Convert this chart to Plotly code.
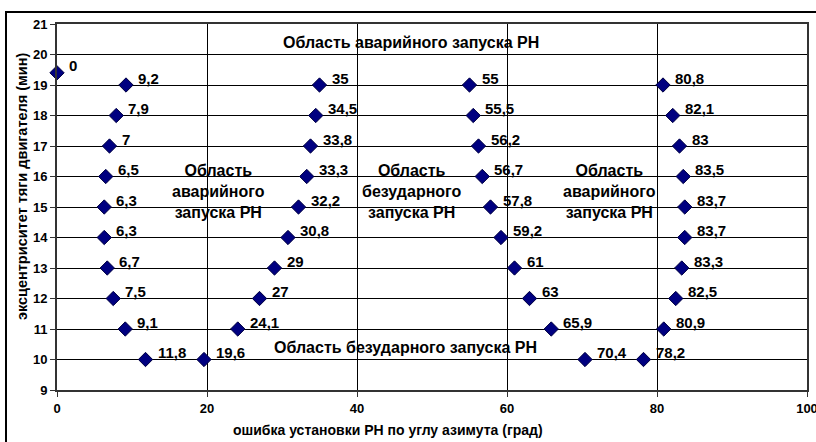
import plotly.graph_objects as go

# Data: azimuth error (x) vs thrust eccentricity (y)
x_vals = [0,
          9.2, 7.9, 7.0, 6.5, 6.3, 6.3, 6.7, 7.5, 9.1, 11.8,
          19.6, 24.1, 27.0, 29.0, 30.8, 32.2, 33.3, 33.8, 34.5, 35.0,
          55.0, 55.5, 56.2, 56.7, 57.8, 59.2, 61.0, 63.0, 65.9, 70.4,
          78.2, 80.9, 82.5, 83.3, 83.7, 83.7, 83.5, 83.0, 82.1, 80.8]
y_vals = [19.4,
          19, 18, 17, 16, 15, 14, 13, 12, 11, 10,
          10, 11, 12, 13, 14, 15, 16, 17, 18, 19,
          19, 18, 17, 16, 15, 14, 13, 12, 11, 10,
          10, 11, 12, 13, 14, 15, 16, 17, 18, 19]
labels = ["0",
          "9,2", "7,9", "7", "6,5", "6,3", "6,3", "6,7", "7,5", "9,1", "11,8",
          "19,6", "24,1", "27", "29", "30,8", "32,2", "33,3", "33,8", "34,5", "35",
          "55", "55,5", "56,2", "56,7", "57,8", "59,2", "61", "63", "65,9", "70,4",
          "78,2", "80,9", "82,5", "83,3", "83,7", "83,7", "83,5", "83", "82,1", "80,8"]

x_ticks = [0, 20, 40, 60, 80, 100]
y_ticks = list(range(9, 22))

x_title = "ошибка установки РН по углу азимута (град)"
y_title = "эксцентриситет тяги двигателя (мин)"

region_texts = ["Область аварийного запуска РН",
                "Область безударного запуска РН",
                "Область<br>аварийного<br>запуска РН",
                "Область<br>безударного<br>запуска РН",
                "Область<br>аварийного<br>запуска РН"]
region_x = [47.2, 46.4, 21.5, 47.3, 73.7]
region_y = [20.38, 10.39, 15.5, 15.5, 15.5]

FONT = "Liberation Sans, Arial, sans-serif"

fig = go.Figure()
fig.add_trace(go.Scatter(
    x=x_vals, y=y_vals, mode="markers",
    marker=dict(symbol="diamond", size=11, color="#000080",
                line=dict(color="#000040", width=1)),
    cliponaxis=False, showlegend=False, hoverinfo="skip",
))

for xv, yv, t in zip(x_vals, y_vals, labels):
    fig.add_annotation(x=xv, y=yv, text="<b>%s</b>" % t, showarrow=False,
                       xanchor="left", yanchor="middle", xshift=10, yshift=7,
                       font=dict(family=FONT, size=15, color="black"))

for t, xx, yy in zip(region_texts, region_x, region_y):
    fig.add_annotation(x=xx, y=yy, text="<b>%s</b>" % t, showarrow=False,
                       xanchor="center", yanchor="middle",
                       font=dict(family=FONT, size=16, color="black"),
                       align="center")

# axis titles (placed as in the original, not centred on the plot)
fig.add_annotation(xref="paper", yref="paper", x=0.441, y=-0.109,
                   xanchor="center", yanchor="middle",
                   text="<b>%s</b>" % x_title, showarrow=False,
                   font=dict(family=FONT, size=14, color="black"))
fig.add_annotation(xref="paper", yref="paper", x=-0.0467, y=0.557,
                   xanchor="center", yanchor="middle",
                   text="<b>%s</b>" % y_title, showarrow=False, textangle=-90,
                   font=dict(family=FONT, size=14.5, color="black"))

# outer chart border (right and bottom run past the picture)
fig.add_shape(type="rect", xref="paper", yref="paper",
              x0=-0.068, x1=1.05, y0=-0.3, y1=1.0328,
              line=dict(color="black", width=2), layer="below")

fig.update_layout(
    width=816, height=442,
    margin=dict(l=57, r=9, t=24, b=52),
    paper_bgcolor="white", plot_bgcolor="white",
    font=dict(family=FONT, color="black"),
    xaxis=dict(range=[0, 100], tickvals=x_ticks, showgrid=True, automargin=False,
               gridcolor="black", gridwidth=1, zeroline=False,
               showline=True, linecolor="#333", linewidth=2, mirror=True,
               ticks="outside", ticklen=5, tickcolor="#333",
               ticklabeloverflow="allow",
               tickfont=dict(family=FONT, size=13, color="black", weight="bold")),
    yaxis=dict(range=[9, 21], tickvals=y_ticks, showgrid=True, automargin=False,
               gridcolor="black", gridwidth=1, zeroline=False,
               showline=True, linecolor="#333", linewidth=2, mirror=True,
               ticks="outside", ticklen=5, tickcolor="#333",
               tickfont=dict(family=FONT, size=13, color="black", weight="bold")),
)

fig.write_html("out.html", config={"displayModeBar": False},
               post_script="document.body.style.margin='0';")
